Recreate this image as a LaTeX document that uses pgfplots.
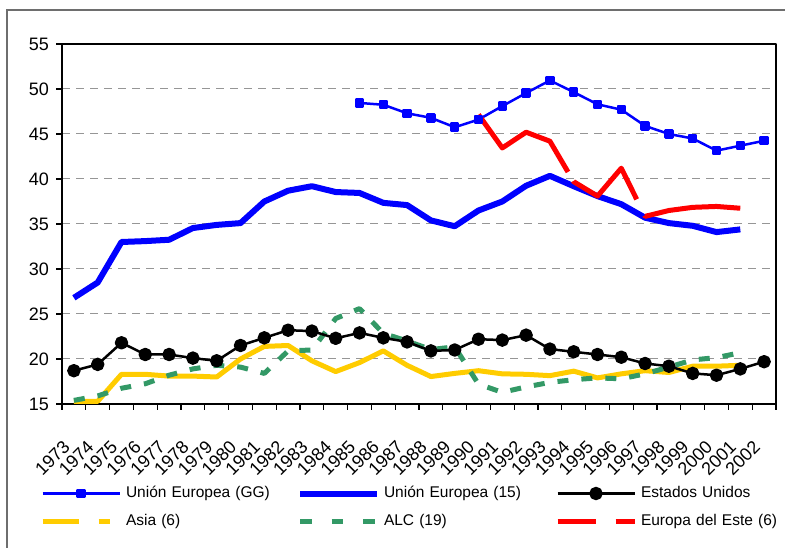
\documentclass[border=0pt]{standalone}
\usepackage{fontspec}
\setmainfont{Liberation Sans}
\usepackage{pgfplots}
\pgfplotsset{compat=1.18}
\definecolor{ueblue}{RGB}{0,0,255}
\definecolor{asiayellow}{RGB}{255,204,0}
\definecolor{alcgreen}{RGB}{51,153,102}
\definecolor{eered}{RGB}{255,0,0}
\definecolor{framegray}{RGB}{110,110,110}
\definecolor{gridgray}{RGB}{150,150,150}

\begin{document}
\begin{tikzpicture}
\path[use as bounding box] (0bp,0bp) rectangle (785bp,548bp);
\draw[line width=2bp, color=framegray] (7bp,0bp) -- (7bp,538bp) -- (785bp,538bp);
\begin{axis}[
  at={(62bp,144bp)}, anchor=south west,
  scale only axis, width=714bp, height=360bp,
  xmin=-0.5, xmax=29.5, ymin=15, ymax=55,
  axis line style={black, line width=1.3bp},
  ytick={15,20,...,55},
  ymajorgrids,
  y grid style={dash pattern=on 8bp off 6bp, color=gridgray, line width=1bp},
  xtick={-0.5,0.5,...,29.5},
  xticklabels={1973,1974,1975,1976,1977,1978,1979,1980,1981,1982,1983,1984,1985,1986,1987,1988,1989,1990,1991,1992,1993,1994,1995,1996,1997,1998,1999,2000,2001,2002,{}},
  tick align=outside, major tick length=6bp,
  tick style={black, line width=1.2bp},
  xtick pos=bottom, ytick pos=left,
  tick label style={font=\fontsize{18bp}{21bp}\selectfont},
  /pgf/number format/assume math mode=true,
  xticklabel style={xshift=0bp, yshift=-29bp, rotate=45, anchor=north east, inner sep=0pt},
  yticklabel style={anchor=east, inner sep=0pt, xshift=-7bp},
  legend columns=3,
  legend style={at={(-0.0308,-0.2278)}, anchor=north west, draw=none, fill=none,
    inner sep=0pt, outer sep=0pt,
    font=\fontsize{15.5bp}{18bp}\selectfont,
    nodes={inner sep=0pt, text height=11.5bp, text depth=3.5bp},
    row sep=13bp,
    /tikz/every odd column/.append style={column sep=4bp},
    /tikz/every even column/.append style={text width=171bp, align=left}},
  legend cell align=left,
  legend image code/.code={\draw[mark repeat=2,mark phase=2,#1] plot coordinates {(0bp,0bp) (38.5bp,0bp) (77bp,0bp)};},
  line join=round,
]
% legend images (legend order)
\addlegendimage{ueblue, line width=2.5bp, mark=square*, mark size=3.5bp, mark options={solid}}
\addlegendentry{Unión Europea (GG)}
\addlegendimage{ueblue, line width=6bp}
\addlegendentry{Unión Europea (15)}
\addlegendimage{black, line width=2.5bp, mark=*, mark size=5.5bp, mark options={solid}}
\addlegendentry{Estados Unidos}
\addlegendimage{asiayellow, line width=5bp, dash pattern=on 36bp off 20bp on 11bp off 50bp}
\addlegendentry{Asia (6)}
\addlegendimage{alcgreen, line width=5bp, dash pattern=on 11.5bp off 20bp on 11.5bp off 20bp on 11.5bp off 10bp}
\addlegendentry{ALC (19)}
\addlegendimage{eered, line width=5bp, dash pattern=on 38bp off 20bp on 21bp off 10bp}
\addlegendentry{Europa del Este (6)}

% Unión Europea (15)
\addplot[forget plot, ueblue, line width=6bp] coordinates {
(0,26.8) (1,28.5) (2,33.0) (3,33.1) (4,33.25) (5,34.55) (6,34.9) (7,35.1) (8,37.5) (9,38.7)
(10,39.2) (11,38.55) (12,38.45) (13,37.35) (14,37.1) (15,35.4) (16,34.75) (17,36.5) (18,37.5) (19,39.25)
(20,40.35) (21,39.2) (22,38.1) (23,37.2) (24,35.7) (25,35.1) (26,34.8) (27,34.1) (28,34.4)};
% Unión Europea (GG)
\addplot[forget plot, ueblue, line width=2.5bp, mark=square*, mark size=3.5bp] coordinates {
(12,48.45) (13,48.25) (14,47.3) (15,46.8) (16,45.75) (17,46.6) (18,48.1) (19,49.55) (20,50.95)
(21,49.65) (22,48.3) (23,47.7) (24,45.9) (25,45.0) (26,44.5) (27,43.15) (28,43.7) (29,44.25)};
% Asia (6)
\addplot[forget plot, asiayellow, line width=5bp] coordinates {
(0,15.3) (1,15.3) (2,18.3) (3,18.3) (4,18.1) (5,18.1) (6,18.0) (7,20.0) (8,21.4) (9,21.5)
(10,19.8) (11,18.6) (12,19.6) (13,20.9) (14,19.3) (15,18.05) (16,18.4) (17,18.7) (18,18.35) (19,18.3)
(20,18.15) (21,18.65) (22,17.9) (23,18.35) (24,18.7) (25,18.5) (26,19.2) (27,19.2) (28,19.3)};
% ALC (19)
\addplot[forget plot, alcgreen, line width=5bp, dash pattern=on 11bp off 13bp] coordinates {
(0,15.4) (1,15.9) (2,16.75) (3,17.25) (4,18.2) (5,18.9) (6,19.3) (7,19.1) (8,18.4) (9,20.9)
(10,21.0) (11,24.5) (12,25.6) (13,22.85) (14,22.0) (15,21.05) (16,21.35) (17,17.2) (18,16.3) (19,16.9)
(20,17.4) (21,17.7) (22,17.9) (23,17.8) (24,18.35) (25,19.1) (26,19.9) (27,20.15) (28,20.7)};
% Estados Unidos
\addplot[forget plot, black, line width=2.5bp, mark=*, mark size=5.5bp] coordinates {
(0,18.7) (1,19.4) (2,21.8) (3,20.5) (4,20.5) (5,20.1) (6,19.8) (7,21.5) (8,22.35) (9,23.2)
(10,23.1) (11,22.3) (12,22.9) (13,22.35) (14,21.9) (15,20.9) (16,21.0) (17,22.2) (18,22.1) (19,22.65)
(20,21.1) (21,20.8) (22,20.5) (23,20.2) (24,19.5) (25,19.2) (26,18.4) (27,18.2) (28,18.9) (29,19.7)};
% Europa del Este (6)
\addplot[forget plot, eered, line width=5bp, dash pattern=on 130.6bp off 10.5bp on 100bp off 18bp on 400bp off 1bp] coordinates {
(17,47.15) (18,43.45) (19,45.2) (20,44.2) (21,39.7) (22,38.1) (23,41.2) (24,35.85)
(25,36.5) (26,36.85) (27,36.95) (28,36.75)};
\end{axis}
\end{tikzpicture}
\end{document}
